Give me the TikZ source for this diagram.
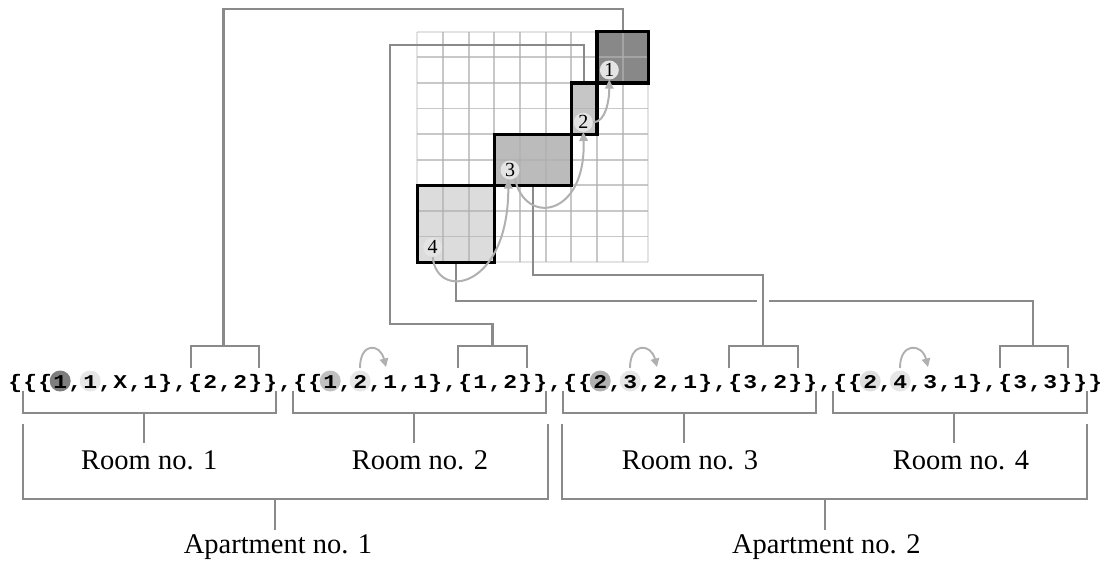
\documentclass[tikz,border=0pt]{standalone}
\usepackage{fontspec}
\usepackage{graphicx}
\setmainfont{Liberation Serif}
\newfontfamily\codefont{Liberation Mono}
\usetikzlibrary{arrows.meta,calc}
\definecolor{connc}{HTML}{8A8A8A}
\definecolor{gridc}{HTML}{B0B0B0}
\definecolor{flowc}{HTML}{B0B0B0}
\definecolor{numc}{HTML}{E4E4E4}
\definecolor{roomA}{HTML}{888888}
\definecolor{roomB}{HTML}{C6C6C6}
\definecolor{roomC}{HTML}{BBBBBB}
\definecolor{roomD}{HTML}{DCDCDC}
\definecolor{hlA}{HTML}{7E7E7E}
\definecolor{hlB}{HTML}{C0C0C0}
\definecolor{hlC}{HTML}{B0B0B0}
\definecolor{hlD}{HTML}{DEDEDE}
\definecolor{hlL}{HTML}{E6E6E6}
\newcommand\ch[1]{\makebox[15pt][c]{\scalebox{1.18}[1]{#1}}}
\newcommand\lbk{\ch{\{}}
\newcommand\rbk{\ch{\}}}
\newcommand\cmm{\ch{,}}
\begin{document}
\begin{tikzpicture}[x=1pt,y=-1pt,
  conn/.style={draw=connc,line width=2.2pt},
  gline/.style={draw=gridc,line width=1.9pt,opacity=0.7},
  gedge/.style={draw=gridc,line width=1.9pt,opacity=0.35},
  wall/.style={draw=black,line width=3.2pt},
  flow/.style={draw=flowc,line width=2pt,-{Triangle[length=9pt,width=8.5pt]}},
  tarr/.style={draw=flowc,line width=1.9pt,-{Triangle[length=8.5pt,width=8.5pt]}},
  num/.style={circle,fill=numc,inner sep=0pt,minimum size=19pt,font=\fontsize{20}{20}\selectfont},
  lbl/.style={anchor=base,inner sep=0pt,font=\fontsize{28.5}{30}\selectfont}
]
\useasboundingbox (0,0) rectangle (1104,562);

% ---------- grid with rooms ----------
\begin{scope}[shift={(417.3,31.7)},x=25.67pt,y=-25.6pt]
  \fill[roomA] (7,0) rectangle (9,2);
  \fill[roomB] (6,2) rectangle (7,4);
  \fill[roomC] (3,4) rectangle (6,6);
  \fill[roomD] (0,6) rectangle (3,9);
  \foreach \i in {1,...,8} {
    \draw[gline] (\i,0) -- (\i,9);
    \draw[gline] (0,\i) -- (9,\i);
  }
  \foreach \i in {0,9} {
    \draw[gedge] (\i,0) -- (\i,9);
    \draw[gedge] (0,\i) -- (9,\i);
  }
  \coordinate (r1) at (8,0);
  \coordinate (r2) at (6.5,2);
  \coordinate (r3) at (4.5,6);
  \coordinate (r4) at (1.5,9);
  \coordinate (w1a) at (7,0); \coordinate (w1b) at (9,2);
  \coordinate (w2a) at (6,2); \coordinate (w2b) at (7,4);
  \coordinate (w3a) at (3,4); \coordinate (w3b) at (6,6);
  \coordinate (w4a) at (0,6); \coordinate (w4b) at (3,9);
\end{scope}

% ---------- bracket anchor points ----------
\coordinate (b1) at (223.5,345.7);
\coordinate (b2) at (492.5,345.7);
\coordinate (b3) at (763.3,345.7);
\coordinate (b4) at (1033.3,345.7);
\coordinate (A1) at (223.5,9);
\coordinate (B1) at (390,45);
\coordinate (B2) at (390,324);
\coordinate (C1) at (763.3,275);
\coordinate (D1) at (757,301);
\coordinate (D2) at (769,301);

% ---------- connectors ----------
\draw[conn] (r1) |- (A1) -- (b1);
\draw[conn] (r2) |- (B1) -- (B2) -| (b2);
\draw[conn] (r3) |- (C1) -- (b3);
\draw[conn] (r4) |- (D1);
\draw[conn] (D2) -| (b4);

% ---------- room walls ----------
\draw[wall] (w1a) rectangle (w1b);
\draw[wall] (w2a) rectangle (w2b);
\draw[wall] (w3a) rectangle (w3b);
\draw[wall] (w4a) rectangle (w4b);

% ---------- room numbers ----------
\node[num] (n1) at (609.3,70) {1};
\node[num] (n2) at (583.3,122.3) {2};
\node[num] (n3) at (510,170) {3};
\node[num] (n4) at (432.7,247.3) {4};
\draw[flow] (n2.east) .. controls +(13,0) and +(0,20) .. (n1.south);
\draw[flow] (n3.-60) .. controls +(10,48) and +(3,85) .. (n2.south);
\draw[flow] (n4.south) .. controls +(4,44) and +(0,110) .. (n3.-100);

% ---------- upper brackets ----------
\draw[conn] (190.7,368.3) -- (190.7,345.7) -- (259.3,345.7) -- (259.3,368.3);
\draw[conn] (458.3,368.3) -- (458.3,345.7) -- (527.3,345.7) -- (527.3,368.3);
\draw[conn] (729.3,368.3) -- (729.3,345.7) -- (798.3,345.7) -- (798.3,368.3);
\draw[conn] (1000,368.3) -- (1000,345.7) -- (1068.3,345.7) -- (1068.3,368.3);

% ---------- highlight circles in the code ----------
\fill[hlA] (60.2,381) circle[radius=10.5];
\fill[hlL] (90.2,381) circle[radius=10.5];
\fill[hlB] (330.2,381) circle[radius=10.5];
\fill[hlL] (360.2,381) circle[radius=10.5];
\fill[hlC] (600.2,381) circle[radius=10.5];
\fill[hlL] (630.2,381) circle[radius=10.5];
\fill[hlD] (870.2,381) circle[radius=10.5];
\fill[hlL] (900.2,381) circle[radius=10.5];

% ---------- code line ----------
\node[anchor=base west,inner sep=0pt,font=\codefont\bfseries\fontsize{19.5}{20}\selectfont] (code) at (7.7,388) {%
\lbk\lbk\lbk\ch1\cmm\ch1\cmm\ch X\cmm\ch1\rbk\cmm\lbk\ch2\cmm\ch2\rbk\rbk\cmm%
\lbk\lbk\ch1\cmm\ch2\cmm\ch1\cmm\ch1\rbk\cmm\lbk\ch1\cmm\ch2\rbk\rbk\cmm%
\lbk\lbk\ch2\cmm\ch3\cmm\ch2\cmm\ch1\rbk\cmm\lbk\ch3\cmm\ch2\rbk\rbk\cmm%
\lbk\lbk\ch2\cmm\ch4\cmm\ch3\cmm\ch1\rbk\cmm\lbk\ch3\cmm\ch3\rbk\rbk\rbk};

% ---------- small arrows in the code ----------
\coordinate (s2) at (360,368); \coordinate (e2) at (386,367);
\coordinate (s3) at (630,368); \coordinate (e3) at (657,367);
\coordinate (s4) at (900,368); \coordinate (e4) at (928,367);
\draw[tarr] (s2) .. controls +(0,-26) and +(-6,-24) .. (e2);
\draw[tarr] (s3) .. controls +(0,-26) and +(-6,-24) .. (e3);
\draw[tarr] (s4) .. controls +(0,-26) and +(-6,-24) .. (e4);

% ---------- room brackets ----------
\draw[conn] (22.7,391) -- (22.7,412.7) -- (276,412.7) -- (276,391);
\draw[conn] (292.7,391) -- (292.7,412.7) -- (546,412.7) -- (546,391);
\draw[conn] (562.7,391) -- (562.7,412.7) -- (816,412.7) -- (816,391);
\draw[conn] (832.7,391) -- (832.7,412.7) -- (1086.7,412.7) -- (1086.7,391);
\draw[conn] (144,412.7) -- (144,442.7);
\draw[conn] (414.3,412.7) -- (414.3,442.7);
\draw[conn] (684,412.7) -- (684,442.7);
\draw[conn] (954.3,412.7) -- (954.3,442.7);
\node[lbl] (room1) at (149.3,469.3) {Room no. 1};
\node[lbl] (room2) at (420,469.3) {Room no. 2};
\node[lbl] (room3) at (690,469.3) {Room no. 3};
\node[lbl] (room4) at (961,469.3) {Room no. 4};

% ---------- apartment brackets ----------
\draw[conn] (22.7,424) -- (22.7,499.3) -- (548.3,499.3) -- (548.3,424);
\draw[conn] (561.7,424) -- (561.7,499.3) -- (1087,499.3) -- (1087,424);
\draw[conn] (275,499.3) -- (275,530);
\draw[conn] (825,499.3) -- (825,530);
\node[lbl] (apt1) at (278,553.3) {Apartment no. 1};
\node[lbl] (apt2) at (826.3,553.3) {Apartment no. 2};
\end{tikzpicture}
\end{document}
